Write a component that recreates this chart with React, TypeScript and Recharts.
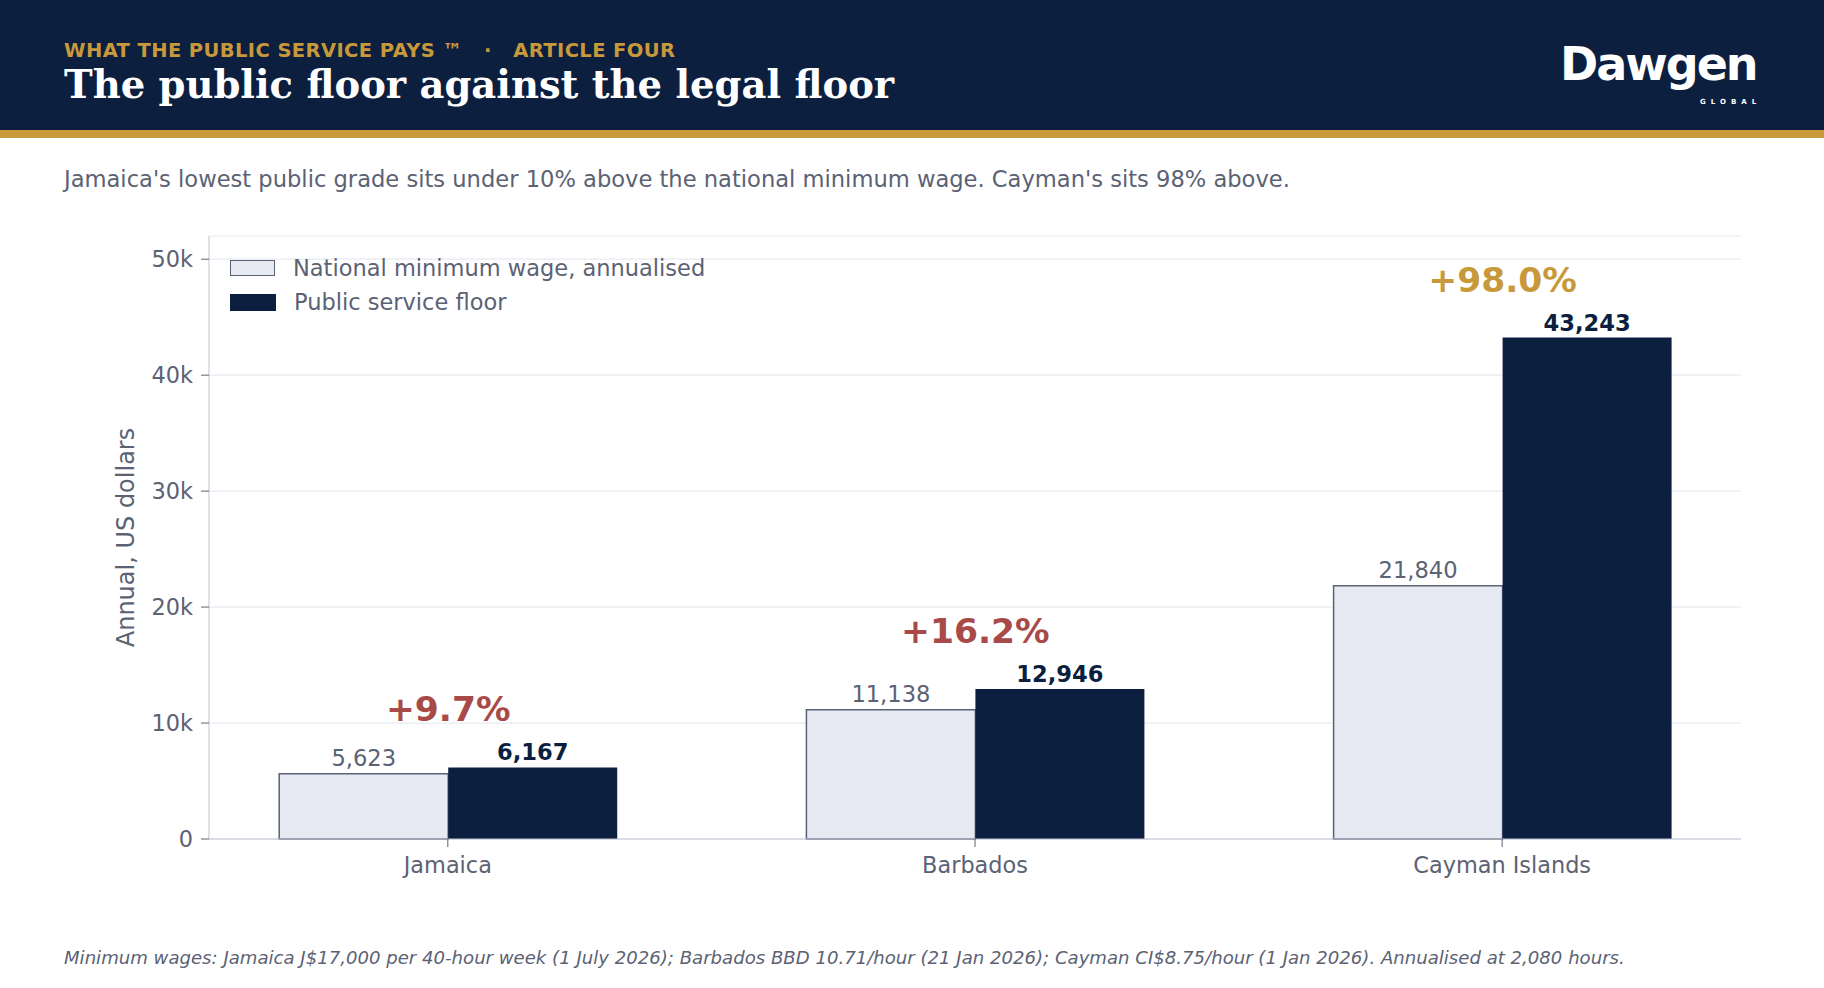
import { BarChart, Bar, XAxis, YAxis, CartesianGrid, Legend, LabelList } from "recharts";

const categories = ["Jamaica", "Barbados", "Cayman Islands"];
const minimumWage = [5623, 11138, 21840];
const publicFloor = [6167, 12946, 43243];
const premiumPct = [9.7, 16.2, 98.0];
const yTicks = [0, 10000, 20000, 30000, 40000, 50000];

const NAVY = "#0c1f3f";
const GOLD = "#c8993a";
const RED = "#a84a48";
const SLATE = "#5b6274";
const PALE = "#e8eaf3";
const AXIS = "#bfc3d3";
const FONT = "'DejaVu Sans', sans-serif";

const data = categories.map((name, i) => ({
  pos: i,
  name,
  minWage: minimumWage[i],
  floor: publicFloor[i],
  pct: premiumPct[i],
}));

const fmt = (v: number) => v.toLocaleString("en-US");

function PctLabel(props: any) {
  const { x, y, index } = props;
  const pct = premiumPct[index];
  return (
    <text
      x={x}
      y={y - 46}
      textAnchor="middle"
      fontFamily={FONT}
      fontWeight="bold"
      fontSize={34.5}
      fill={pct >= 50 ? GOLD : RED}
    >
      {`+${pct.toFixed(1)}%`}
    </text>
  );
}

function LegendBox({ payload }: any) {
  return (
    <div style={{ fontFamily: FONT, fontSize: 22.5, color: SLATE }}>
      {(payload || []).map((p: any) => {
        const light = p.dataKey === "minWage";
        return (
          <div key={p.dataKey} style={{ display: "flex", alignItems: "center", height: 34 }}>
            <span
              style={{
                display: "inline-block",
                width: light ? 43 : 46,
                height: light ? 14 : 17,
                background: light ? PALE : NAVY,
                border: light ? `1.5px solid ${SLATE}` : "none",
                marginRight: 18,
              }}
            />
            <span>{p.value}</span>
          </div>
        );
      })}
    </div>
  );
}

export default function App() {
  return (
    <div
      style={{
        position: "absolute",
        left: 0,
        top: 0,
        width: 1824,
        height: 988,
        background: "#fff",
        overflow: "hidden",
        fontFamily: FONT,
      }}
    >
      <div style={{ position: "absolute", left: 0, top: 0, width: 1824, height: 130, background: NAVY }} />
      <div style={{ position: "absolute", left: 0, top: 130, width: 1824, height: 8, background: GOLD }} />
      <div
        style={{
          position: "absolute",
          left: 64,
          top: 39,
          color: GOLD,
          fontWeight: "bold",
          fontSize: 19.5,
          letterSpacing: 0.4,
          whiteSpace: "pre",
        }}
      >
        {"WHAT THE PUBLIC SERVICE PAYS \u2122   \u00b7   ARTICLE FOUR"}
      </div>
      <div
        style={{
          position: "absolute",
          left: 64,
          top: 62,
          color: "#fff",
          fontFamily: "'DejaVu Serif', serif",
          fontWeight: "bold",
          fontSize: 38.5,
          whiteSpace: "nowrap",
        }}
      >
        The public floor against the legal floor
      </div>
      <div style={{ position: "absolute", left: 1560, top: 34, color: "#fff" }}>
        <div style={{ fontWeight: "bold", fontSize: 46, letterSpacing: -2, lineHeight: "60px" }}>Dawgen</div>
        <div
          style={{
            position: "absolute",
            left: 140,
            top: 64,
            fontSize: 7,
            fontWeight: "bold",
            letterSpacing: 5,
            lineHeight: "8px",
          }}
        >
          GLOBAL
        </div>
      </div>
      <div style={{ position: "absolute", left: 64, top: 166, color: SLATE, fontSize: 22.6, whiteSpace: "nowrap" }}>
        Jamaica's lowest public grade sits under 10% above the national minimum wage. Cayman's sits 98% above.
      </div>

      <div style={{ position: "absolute", left: 0, top: 200 }}>
        <BarChart
          width={1824}
          height={700}
          data={data}
          margin={{ top: 36, right: 83, left: 0, bottom: 0 }}
          barGap={0}
        >
          <CartesianGrid vertical={false} stroke="#e8eaef" strokeWidth={1.2} />
          <XAxis
            dataKey="pos"
            type="number"
            domain={[-0.453, 2.453]}
            ticks={[0, 1, 2]}
            tickCount={3}
            allowDataOverflow
            height={61}
            tickFormatter={(v: number) => categories[v] ?? ""}
            tick={{ fill: SLATE, fontSize: 22.4, fontFamily: FONT }}
            stroke={AXIS}
            tickSize={8}
            tickMargin={10}
            tickLine={{ stroke: SLATE }}
          />
          <YAxis
            domain={[0, 52000]}
            ticks={yTicks}
            width={209}
            tickFormatter={(v: number) => (v === 0 ? "0" : `${v / 1000}k`)}
            tick={{ fill: SLATE, fontSize: 22.4, fontFamily: FONT }}
            stroke={AXIS}
            tickSize={8}
            tickMargin={8}
            tickLine={{ stroke: SLATE }}
            label={{
              value: "Annual, US dollars",
              angle: -90,
              position: "center",
              dx: 21,
              fill: SLATE,
              fontSize: 24,
              fontFamily: FONT,
            }}
          />
          <Legend
            layout="vertical"
            align="center"
            verticalAlign="middle"
            wrapperStyle={{ left: 230, top: 51, width: "auto" }}
            content={<LegendBox />}
          />
          <Bar
            dataKey="minWage"
            name="National minimum wage, annualised"
            fill={PALE}
            stroke={SLATE}
            strokeWidth={1.5}
            barSize={169}
            isAnimationActive={false}
          >
            <LabelList
              dataKey="minWage"
              position="top"
              offset={8}
              formatter={(v: any) => fmt(Number(v))}
              fill={SLATE}
              fontSize={22.6}
              fontFamily={FONT}
            />
          </Bar>
          <Bar dataKey="floor" name="Public service floor" fill={NAVY} barSize={169} isAnimationActive={false}>
            <LabelList
              dataKey="floor"
              position="top"
              offset={7}
              formatter={(v: any) => fmt(Number(v))}
              fill={NAVY}
              fontSize={22.6}
              fontWeight="bold"
              fontFamily={FONT}
            />
            <LabelList dataKey="pct" content={<PctLabel />} />
          </Bar>
        </BarChart>
      </div>

      <div
        style={{
          position: "absolute",
          left: 64,
          top: 947,
          color: SLATE,
          fontStyle: "italic",
          fontSize: 18.1,
          whiteSpace: "nowrap",
        }}
      >
        Minimum wages: Jamaica J$17,000 per 40-hour week (1 July 2026); Barbados BBD 10.71/hour (21 Jan 2026); Cayman
        CI$8.75/hour (1 Jan 2026). Annualised at 2,080 hours.
      </div>
    </div>
  );
}
